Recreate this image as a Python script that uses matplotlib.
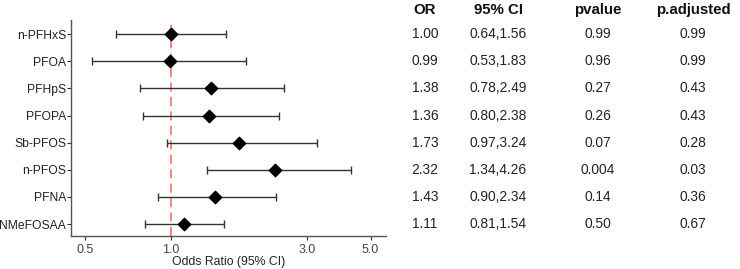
import matplotlib
matplotlib.use("Agg")
import matplotlib.pyplot as plt
import numpy as np

plt.rcParams['font.family'] = ['Liberation Sans', 'DejaVu Sans']

names = ['n-PFHxS', 'PFOA', 'PFHpS', 'PFOPA', 'Sb-PFOS', 'n-PFOS', 'PFNA', 'NMeFOSAA']
odds = [1.00, 0.99, 1.38, 1.36, 1.73, 2.32, 1.43, 1.11]
lo = [0.64, 0.53, 0.78, 0.80, 0.97, 1.34, 0.90, 0.81]
hi = [1.56, 1.83, 2.49, 2.38, 3.24, 4.26, 2.34, 1.54]
pvals = ['0.99', '0.96', '0.27', '0.26', '0.07', '0.004', '0.14', '0.50']
padj = ['0.99', '0.99', '0.43', '0.43', '0.28', '0.03', '0.36', '0.67']
xticks = [0.5, 1.0, 3.0, 5.0]

fig = plt.figure(figsize=(7.4, 2.69), dpi=100)
ax = fig.add_axes([71/740, 1 - 236/269, 315/740, 216/269])

y = np.arange(len(names), 0, -1)
odds = np.array(odds)
err = [odds - np.array(lo), np.array(hi) - odds]
ax.axvline(1.0, color='#f27c74', ls=(0, (5, 3)), lw=1.3, zorder=1)
ax.errorbar(odds, y, xerr=err, fmt='none', ecolor='#333333', elinewidth=1.0,
            capsize=3, capthick=1.0, zorder=2)
ax.scatter(odds, y, marker='D', s=40, color='black', zorder=3)

ax.set_xscale('log')
ax.set_xlim(0.447, 5.66)
ax.set_ylim(0.56, 8.52)
ax.set_xticks(xticks)
ax.set_xticklabels(['%.1f' % v for v in xticks])
ax.minorticks_off()
ax.set_yticks(y)
ax.set_yticklabels(names)
ax.tick_params(axis='both', colors='#333333', length=3, width=0.8)
ax.tick_params(axis='y', labelsize=8.7, labelcolor='#222222', pad=0.5)
ax.tick_params(axis='x', labelsize=9, labelcolor='#444444', pad=3)
ax.set_xlabel('Odds Ratio (95% CI)', fontsize=8.8, color='#222222', labelpad=0)
for s in ['top', 'right']:
    ax.spines[s].set_visible(False)
for s in ['left', 'bottom']:
    ax.spines[s].set_color('#555555')
    ax.spines[s].set_linewidth(1.0)

# table on the right
cols = [425, 498, 598, 693]
heads = ['OR', '95% CI', 'pvalue', 'p.adjusted']
for cx, h in zip(cols, heads):
    fig.text(cx/740, 1 - 10/269, h, ha='center', va='center', fontsize=10.8,
             fontweight='bold', color='#111111')
for i in range(len(names)):
    ty = ax.transData.transform((1, y[i]))[1] / fig.bbox.height
    row = ['%.2f' % odds[i], '%.2f,%.2f' % (lo[i], hi[i]), pvals[i], padj[i]]
    for cx, t in zip(cols, row):
        fig.text(cx/740, ty, t, ha='center', va='center', fontsize=9.9, color='#222222')

fig.savefig('out.png', dpi=100)
